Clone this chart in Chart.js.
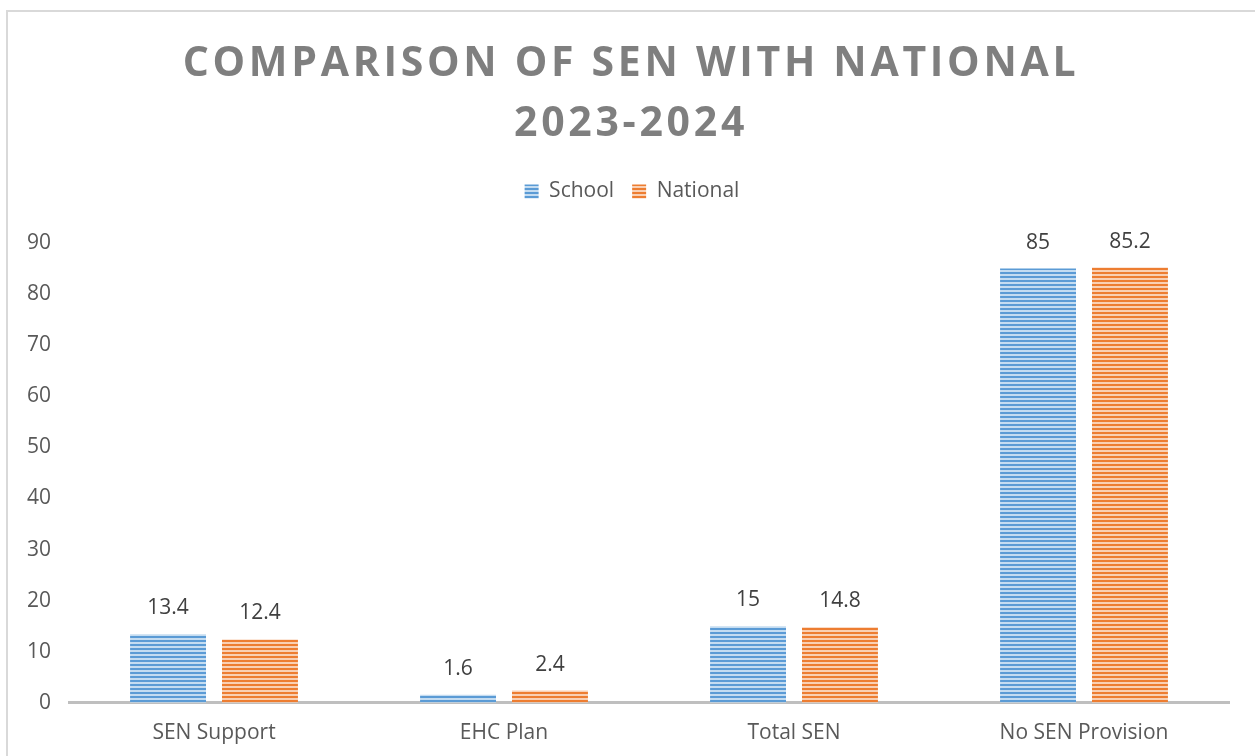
<!DOCTYPE html>
<html>
<head>
<meta charset="utf-8">
<script src="https://cdn.jsdelivr.net/npm/chart.js@4/dist/chart.umd.min.js"></script>
<style>
html, body { margin: 0; padding: 0; background: #fff; overflow: hidden; }
#frame { position: absolute; left: 6px; top: 10px; width: 1270px; height: 770px; border: 2px solid #d9d9d9; box-sizing: border-box; }
#wrap { position: absolute; left: 0; top: 0; width: 1255px; height: 756px; }
</style>
</head>
<body>
<div id="frame"></div>
<div id="wrap"><canvas id="senChart" width="1255" height="756"></canvas></div>
<script>
// dane wykresu
const categories = ['SEN Support', 'EHC Plan', 'Total SEN', 'No SEN Provision'];
const schoolValues = [13.4, 1.6, 15, 85];
const nationalValues = [12.4, 2.4, 14.8, 85.2];
const yTicks = [0, 10, 20, 30, 40, 50, 60, 70, 80, 90];
const titleLines = ['COMPARISON OF SEN WITH NATIONAL', '2023-2024'];

const FONT = '"Open Sans", sans-serif';

// poziome paski jak w Excelu
const makeStripes = (base, light) => {
    const c = document.createElement('canvas');
    c.width = 4; c.height = 4;
    const x = c.getContext('2d');
    x.fillStyle = light; x.fillRect(0, 0, 4, 4);
    x.fillStyle = base; x.fillRect(0, 0, 4, 2);
    return x.createPattern(c, 'repeat');
};

const blueStripes = makeStripes('#5b9bd5', '#c4dcf1');
const orangeStripes = makeStripes('#ed7d31', '#f9d0b4');

// tytuł z rozstrzeloną czcionką
const titlePlugin = {
    id: 'bigTitle',
    afterDraw(chart) {
        const ctx = chart.ctx;
        ctx.save();
        ctx.font = 'bold 41px ' + FONT;
        ctx.fillStyle = '#7f7f7f';
        ctx.textAlign = 'center';
        ctx.textBaseline = 'alphabetic';
        ctx.letterSpacing = '3.7px';
        titleLines.forEach((t, i) => ctx.fillText(t, 631, 76 + i * 60));
        ctx.restore();
    }
};

// legenda: więcej miejsca pod spodem i wyśrodkowanie względem całego płótna
const legendTweak = {
    id: 'legendTweak',
    beforeInit(chart) {
        const legend = chart.legend;
        const fit = legend.fit;
        legend.fit = function () {
            fit.call(this);
            this.height += 31;
        };
        const draw = legend.draw;
        legend.draw = function () {
            this.ctx.save();
            this.ctx.translate(9, 0);
            draw.call(this);
            this.ctx.restore();
        };
    }
};

// etykiety wartości nad słupkami
const valueLabels = {
    id: 'valueLabels',
    afterDatasetsDraw(chart) {
        const ctx = chart.ctx;
        ctx.save();
        ctx.font = '21px ' + FONT;
        ctx.fillStyle = '#404040';
        ctx.textAlign = 'center';
        ctx.textBaseline = 'middle';
        chart.data.datasets.forEach((ds, di) => {
            chart.getDatasetMeta(di).data.forEach((bar, i) => {
                ctx.fillText(String(ds.data[i]), bar.x, bar.y - 26);
            });
        });
        ctx.restore();
    }
};

new Chart(document.getElementById('senChart'), {
    type: 'bar',
    data: {
        labels: categories,
        datasets: [{
            label: 'School',
            data: schoolValues,
            backgroundColor: blueStripes,
            categoryPercentage: 0.634,
            barPercentage: 0.826
        }, {
            label: 'National',
            data: nationalValues,
            backgroundColor: orangeStripes,
            categoryPercentage: 0.634,
            barPercentage: 0.826
        }]
    },
    options: {
        responsive: false,
        animation: false,
        layout: { padding: { top: 163, left: 17, right: 26, bottom: 0 } },
        scales: {
            x: {
                grid: { display: false },
                border: { display: true, color: '#bfbfbf', width: 3 },
                ticks: { color: '#595959', font: { family: FONT, size: 21 }, padding: 10 }
            },
            y: {
                min: 0,
                max: 90,
                afterBuildTicks: (axis) => { axis.ticks = yTicks.map(v => ({ value: v })); },
                grid: { display: false },
                border: { display: false },
                ticks: { color: '#595959', font: { family: FONT, size: 21 }, padding: 10 }
            }
        },
        plugins: {
            title: { display: false },
            tooltip: { enabled: false },
            legend: {
                position: 'top',
                labels: {
                    color: '#595959',
                    font: { family: FONT, size: 21 },
                    boxWidth: 14,
                    boxHeight: 14,
                    padding: 18
                }
            }
        }
    },
    plugins: [titlePlugin, legendTweak, valueLabels]
});
</script>
</body>
</html>
